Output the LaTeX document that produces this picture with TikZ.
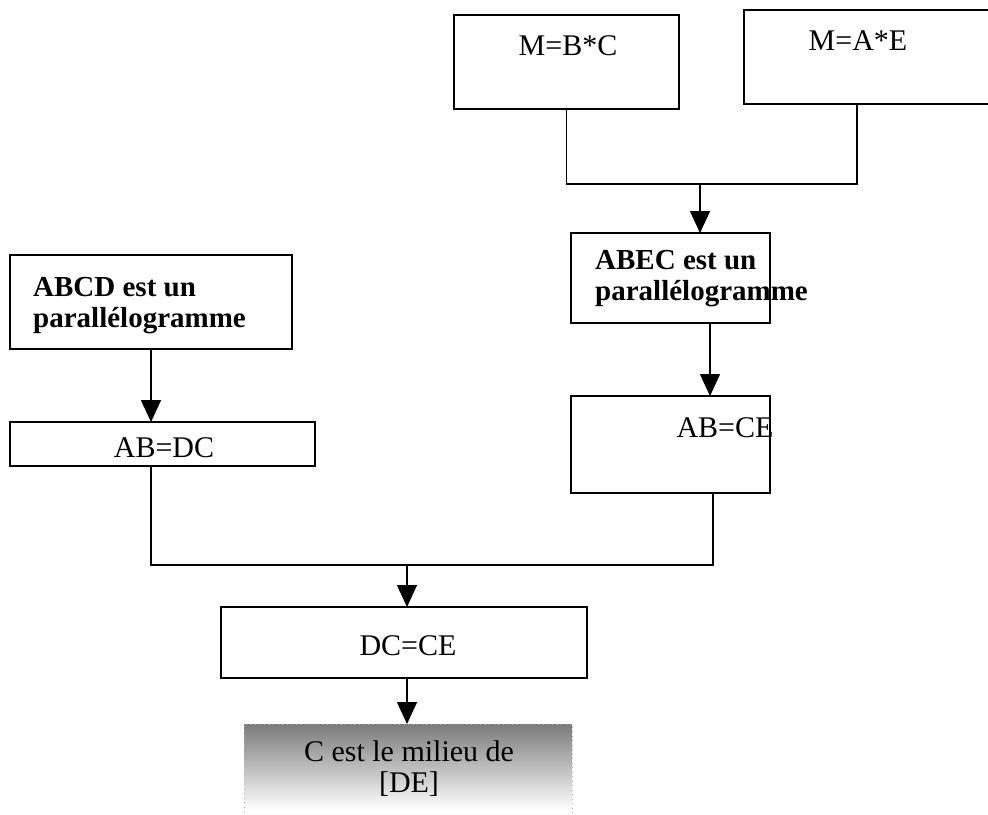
\documentclass[tikz,border=0pt]{standalone}
\usepackage{fontspec}
\setmainfont{Liberation Serif}
\usetikzlibrary{arrows.meta,calc}
\begin{document}
\begin{tikzpicture}[x=1pt,y=-1pt,
  box/.style={draw=black,line width=1.5pt,rectangle,inner sep=0pt,outer sep=0pt},
  txt/.style={anchor=base,inner sep=0pt,font=\fontsize{30}{31}\selectfont},
  btxt/.style={anchor=base west,inner sep=0pt,align=left,font=\fontsize{29}{31}\selectfont\bfseries},
  link/.style={line width=1.5pt},
  arrowlink/.style={line width=1.5pt,-{Triangle[width=20pt,length=22pt]}}]
\useasboundingbox (0,0) rectangle (988,814);

% boxes
\node[box,minimum width=225,minimum height=94] (mbc) at (566.5,62) {};
\node[box,minimum width=256,minimum height=94] (mae) at (872,57) {};
\node[box,minimum width=199,minimum height=90] (abec) at (670.5,278) {};
\node[box,minimum width=199,minimum height=97] (abce) at (670.5,444.5) {};
\node[box,minimum width=282,minimum height=94] (abcd) at (151,302) {};
\node[box,minimum width=305,minimum height=44] (abdc) at (162.5,444) {};
\node[box,minimum width=366,minimum height=71] (dcce) at (404,642.5) {};
\node[inner sep=0pt,outer sep=0pt,minimum width=328,minimum height=86,
      top color=black!52,bottom color=white] (milieu) at (408,767) {};
\fill[white] (milieu.south west) rectangle ($(milieu.south east)+(0,20)$);
\draw[gray!60,line width=0.6pt,dash pattern=on 1pt off 3.5pt]
  ($(milieu.south west)+(0,20)$) -- (milieu.north west) -- (milieu.north east) -- ($(milieu.south east)+(0,20)$);

% texts
\node[txt] (t1) at (568,55) {M=B*C};
\node[txt] (t2) at (858,50) {M=A*E};
\node[btxt] (t3) at (595,300) {ABEC est un\\parallélogramme};
\node[txt] (t4) at (725,437) {AB=CE};
\node[btxt] (t5) at (33,327) {ABCD est un\\parallélogramme};
\node[txt] (t6) at (164,457) {AB=DC};
\node[txt] (t7) at (408,655) {DC=CE};
\node[txt,align=center] (t8) at (409,792) {C est le milieu de\\{}[DE]};

% junction points
\coordinate (jtop) at (700,184);
\coordinate (xmae) at (857,0);
\coordinate (xabec) at (710,0);
\coordinate (xabce) at (713,0);
\coordinate (jmid) at (407,565);

% connectors
\draw[link] (mbc.south) |- (jtop);
\draw[link] (mae.south -| xmae) |- (jtop);
\draw[arrowlink] (jtop) -- (jtop |- abec.north);
\draw[arrowlink] (abec.south -| xabec) -- (abce.north -| xabec);
\draw[arrowlink] (abcd.south) -- (abcd.south |- abdc.north);
\draw[link] (abcd.south |- abdc.south) |- (jmid);
\draw[link] (abce.south -| xabce) |- (jmid);
\draw[arrowlink] (jmid) -- (jmid |- dcce.north);
\draw[arrowlink] (dcce.south -| jmid) -- (milieu.north -| jmid);
\end{tikzpicture}
\end{document}
